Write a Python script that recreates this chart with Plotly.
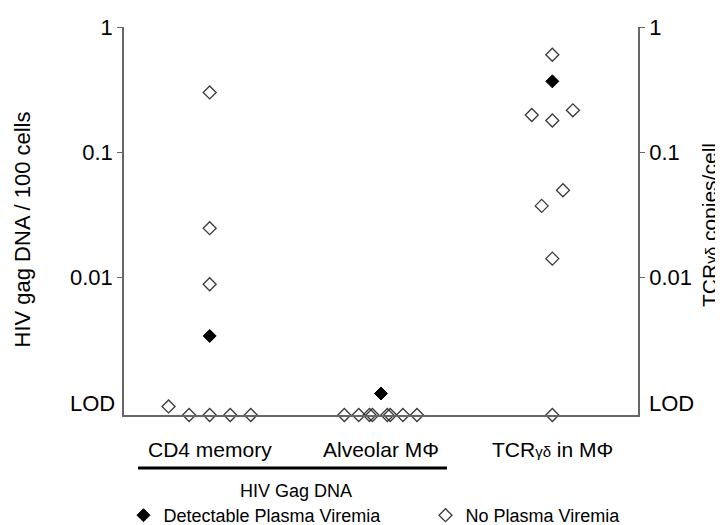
import math
import plotly.graph_objects as go

# ---- data ----
categories = ["CD4 memory", "Alveolar M\u03a6",
              "TCR<span style='font-size:15px'>\u03b3\u03b4</span> in M\u03a6"]

# detectable plasma viremia (filled): category index, jitter offset, value (0 = below LOD)
det_cat = [0, 1, 2]
det_off = [0.0, 0.0, 0.0]
det_val = [0.0034, 0.00118, 0.368]

# no plasma viremia (open)
no_cat = [0, 0, 0, 0, 0, 0, 0, 0,
          1, 1, 1, 1, 1, 1, 1, 1,
          2, 2, 2, 2, 2, 2, 2, 2]
no_off = [0.0, 0.0, 0.0, -0.24, -0.12, 0.0, 0.12, 0.24,
          -0.214, -0.130, -0.067, -0.050, 0.037, 0.054, 0.128, 0.210,
          0.0, -0.12, 0.0, 0.12, 0.062, -0.062, 0.0, 0.0]
no_val = [0.30, 0.0247, 0.0088, 0.00093, 0, 0, 0, 0,
          0, 0, 0, 0, 0, 0, 0, 0,
          0.60, 0.198, 0.179, 0.216, 0.0496, 0.0372, 0.0141, 0]

tick_vals = [1, 0.1, 0.01]
tick_text = ["1", "0.1", "0.01"]
lod_label = "LOD"
lod_value = 0.001
axis_floor = 10 ** -3.1

FONT = "Liberation Sans, Arial, sans-serif"


def xs(cats, offs):
    return [c + 1 + o for c, o in zip(cats, offs)]


def ys(vals):
    return [v if v > 0 else axis_floor for v in vals]


fig = go.Figure()
fig.add_trace(go.Scatter(
    x=xs(no_cat, no_off), y=ys(no_val), mode="markers",
    name="No Plasma Viremia", legendrank=2,
    marker=dict(symbol="diamond-open", size=10, color="#3a3a3a",
                line=dict(color="#3a3a3a", width=1.3)),
    cliponaxis=False))
fig.add_trace(go.Scatter(
    x=xs(det_cat, det_off), y=ys(det_val), mode="markers",
    name="Detectable Plasma Viremia", legendrank=1,
    marker=dict(symbol="diamond", size=10, color="black",
                line=dict(color="black", width=1)),
    cliponaxis=False))
fig.add_trace(go.Scatter(x=[None], y=[None], yaxis="y2", showlegend=False,
                         hoverinfo="skip"))

axis_common = dict(type="log", range=[-3.1, 0], tickvals=tick_vals,
                   ticktext=tick_text, ticks="outside", ticklen=5,
                   tickwidth=1.3, tickcolor="#666", showline=True,
                   linecolor="#666", linewidth=1.5, showgrid=False,
                   zeroline=False,
                   tickfont=dict(family=FONT, size=22, color="black"))

fig.update_layout(
    width=723, height=525,
    margin=dict(l=116, r=93, t=19, b=118, autoexpand=False),
    plot_bgcolor="white", paper_bgcolor="white",
    xaxis=dict(range=[0.5, 3.5], showline=True, linecolor="#666",
               linewidth=1.5, showticklabels=False, ticks="",
               showgrid=False, zeroline=False),
    yaxis=dict(**axis_common),
    yaxis2=dict(**axis_common, overlaying="y", side="right"),
    showlegend=True,
    legend=dict(orientation="h", x=-0.001, xanchor="left", y=-0.259,
                yanchor="middle", entrywidth=257, entrywidthmode="pixels",
                traceorder="normal",
                font=dict(family=FONT, size=18, color="black"),
                bgcolor="rgba(0,0,0,0)"),
)

annotations = []
for i, c in enumerate(categories):
    annotations.append(dict(x=i + 1, y=0, xref="x", yref="paper", text=c,
                            showarrow=False, yanchor="middle", yshift=-34,
                            font=dict(family=FONT, size=21, color="black")))
# LOD labels (tick label at the limit of detection, no tick mark)
lod_log = math.log10(lod_value)
annotations.append(dict(x=0, y=lod_log, xref="paper", yref="y",
                        text=lod_label, showarrow=False, xanchor="right",
                        xshift=-7, yshift=-1,
                        font=dict(family=FONT, size=22, color="black")))
annotations.append(dict(x=1, y=lod_log, xref="paper", yref="y",
                        text=lod_label, showarrow=False, xanchor="left",
                        xshift=9, yshift=-1,
                        font=dict(family=FONT, size=22, color="black")))
# group label
annotations.append(dict(x=(287.5 - 116) / 514, y=-(482.7 - 407) / 388,
                        xref="paper", yref="paper", text="HIV Gag DNA",
                        showarrow=False, yanchor="middle",
                        font=dict(family=FONT, size=18, color="black")))
# axis titles
annotations.append(dict(x=(14 - 116) / 514, y=(407 - 221.5) / 388,
                        xref="paper", yref="paper",
                        text="HIV gag DNA / 100 cells", textangle=-90,
                        showarrow=False, xanchor="center", yanchor="middle",
                        font=dict(family=FONT, size=22, color="black")))
annotations.append(dict(x=(701 - 116) / 514, y=(407 - 217) / 388,
                        xref="paper", yref="paper",
                        text="TCR<span style='font-size:16px'>\u03b3\u03b4</span> copies/cell",
                        textangle=-90,
                        showarrow=False, xanchor="center", yanchor="middle",
                        font=dict(family=FONT, size=21, color="black")))
fig.update_layout(annotations=annotations)

fig.add_shape(type="line", xref="paper", yref="paper",
              x0=(130 - 116) / 514, x1=(439 - 116) / 514,
              y0=-(460 - 407) / 388, y1=-(460 - 407) / 388,
              line=dict(color="black", width=3))

fig.write_html("out.html")
